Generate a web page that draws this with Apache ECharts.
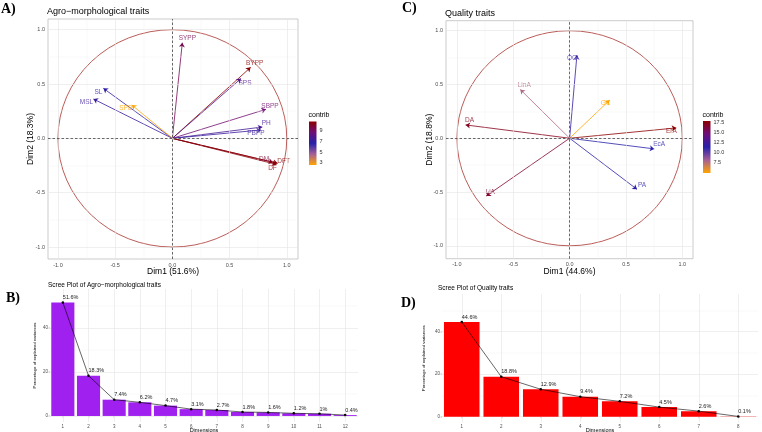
<!DOCTYPE html>
<html><head><meta charset="utf-8">
<script src="https://cdn.jsdelivr.net/npm/echarts@6/dist/echarts.min.js"></script>
<style>html,body{margin:0;padding:0;background:#fff}#c{width:762px;height:432px}</style>
</head><body><div id="c"></div>
<script>
// ---------- data ----------
const agroVars    = ['SYPP','BYPP','SPS','SBPP','PH','PBPP','DM','DFT','DF','SL','MSL','SPB'];
const agroDim1    = [0.087, 0.684, 0.60, 0.818, 0.786, 0.774, 0.88, 0.92, 0.91, -0.603, -0.69, -0.355];
const agroDim2    = [0.88, 0.653, 0.55, 0.267, 0.104, 0.077, -0.22, -0.23, -0.24, 0.46, 0.362, 0.307];
const agroContrib = [9.3, 10.7, 7.9, 8.8, 7.5, 7.2, 9.8, 10.7, 10.6, 6.9, 7.2, 2.6];

const qualVars    = ['OC','LinA','GC','DA','ErA','EcA','PA','LiA'];
const qualDim1    = [0.065, -0.438, 0.355, -0.923, 0.947, 0.751, 0.598, -0.74];
const qualDim2    = [0.773, 0.453, 0.354, 0.124, 0.096, -0.099, -0.475, -0.537];
const qualContrib = [11.9, 7.8, 4.95, 17.1, 17.8, 11.3, 11.5, 16.5];

const agroDims = ['1','2','3','4','5','6','7','8','9','10','11','12'];
const agroVarExpl = [51.6, 18.3, 7.4, 6.2, 4.7, 3.1, 2.7, 1.8, 1.6, 1.2, 1, 0.4];
const qualDims = ['1','2','3','4','5','6','7','8'];
const qualVarExpl = [44.6, 18.8, 12.9, 9.4, 7.2, 4.5, 2.6, 0.1];

const pcaTicks = [-1, -0.5, 0, 0.5, 1];
const pcaMinor = [-0.75, -0.25, 0.25, 0.75];
const screeTicks = [0, 20, 40];
const screeMinor = [10, 30, 50];
const agroLegendTicks = [3, 5, 7, 9];
const qualLegendTicks = [7.5, 10, 12.5, 15, 17.5];

// ---------- styles ----------
const FONT = '"Liberation Sans", Arial, sans-serif';
const SERIF = '"Liberation Serif", "Times New Roman", serif';
const rampStops = [[0,[255,165,0]],[0.25,[165,95,150]],[0.5,[38,32,170]],[0.75,[110,14,120]],[1,[139,0,0]]];
function rampColor(t){
  t = Math.max(0, Math.min(1, t));
  for (let i = 1; i < rampStops.length; i++) {
    if (t <= rampStops[i][0]) {
      const a = rampStops[i-1], b = rampStops[i];
      const f = (t - a[0]) / (b[0] - a[0]);
      const c = a[1].map((v, k) => Math.round(v + (b[1][k] - v) * f));
      return 'rgb(' + c.join(',') + ')';
    }
  }
  return 'rgb(139,0,0)';
}
const labelPlace = {
  SYPP:['top',[5,0]], BYPP:['top',[4,0]], SPS:['bottom',[4,0]], SBPP:['top',[4,1]],
  PH:['top',[4,1]], PBPP:['bottom',[-5,-1]], DM:['top',[-9,1]], DFT:['top',[6,2]],
  DF:['bottom',[-4,-1]], SL:['bottom',[-5,-1]], MSL:['bottom',[-7,-1]], SPB:['bottom',[-6,-1]],
  OC:['bottom',[-5,-1]], LinA:['top',[4,0]], GC:['bottom',[-4,-2]], DA:['top',[4,0]],
  ErA:['bottom',[-5,-1]], EcA:['top',[5,0]], PA:['top',[5,0]], LiA:['top',[4,1]]
};
const majorLine = {color:'#E4E4E4', width:0.6, type:'solid'};
const minorLine = {color:'#F1F1F1', width:0.4, type:'solid'};
const dashLine  = {color:'#444', width:0.8, type:[2.5,2]};

const grids = [], xAxes = [], yAxes = [], series = [];

function pcaPanel(o){
  const gi = grids.length;
  grids.push({left:o.left, top:o.top, width:o.width, height:o.height, show:true,
    borderColor:'#B5B5B5', borderWidth:0.7, backgroundColor:'rgba(0,0,0,0)', containLabel:false, outerBoundsMode:'none'});
  const xi = xAxes.length, yi = yAxes.length;
  xAxes.push({gridIndex:gi, type:'value', min:o.xmin, max:o.xmax, name:o.xname, nameLocation:'middle', nameGap:8,
    nameMoveOverlap:false, nameTextStyle:{fontSize:8.5, color:'#000', fontFamily:FONT},
    axisLine:{show:false}, splitLine:{show:false},
    axisTick:{show:true, customValues:pcaTicks, length:2, lineStyle:{color:'#444', width:0.5}},
    axisLabel:{customValues:pcaTicks, formatter:v=>v.toFixed(1), fontSize:5.5, color:'#4D4D4D', margin:3, fontFamily:FONT}});
  yAxes.push({gridIndex:gi, type:'value', min:o.ymin, max:o.ymax, name:o.yname, nameLocation:'middle', nameGap:o.yGap,
    nameMoveOverlap:false, nameTextStyle:{fontSize:8.5, color:'#000', fontFamily:FONT},
    axisLine:{show:false}, splitLine:{show:false},
    axisTick:{show:true, customValues:pcaTicks, length:2, lineStyle:{color:'#444', width:0.5}},
    axisLabel:{customValues:pcaTicks, formatter:v=>v.toFixed(1), fontSize:5.5, color:'#4D4D4D', margin:3, fontFamily:FONT}});
  const ml = [];
  pcaMinor.forEach(v=>{ ml.push({xAxis:v, lineStyle:minorLine}); ml.push({yAxis:v, lineStyle:minorLine}); });
  pcaTicks.forEach(v=>{ ml.push({xAxis:v, lineStyle:majorLine}); ml.push({yAxis:v, lineStyle:majorLine}); });
  ml.push({xAxis:0, lineStyle:dashLine}); ml.push({yAxis:0, lineStyle:dashLine});
  series.push({type:'scatter', xAxisIndex:xi, yAxisIndex:yi, data:[[0,0]], symbolSize:0, silent:true, z:1,
    itemStyle:{color:'rgba(0,0,0,0)'},
    markLine:{silent:true, symbol:'none', animation:false, label:{show:false}, data:ml}});
  series.push({type:'custom', xAxisIndex:xi, yAxisIndex:yi, data:[[0,0]], silent:true, z:2,
    renderItem:(p, api)=>{
      const c = api.coord([0,0]), px = api.coord([1,0]), py = api.coord([0,1]);
      const rx = px[0]-c[0], ry = c[1]-py[1];
      return {type:'path', shape:{pathData:
        'M '+(c[0]-rx)+' '+c[1]+' A '+rx+' '+ry+' 0 1 0 '+(c[0]+rx)+' '+c[1]+' A '+rx+' '+ry+' 0 1 0 '+(c[0]-rx)+' '+c[1]+' Z'},
        style:{fill:'none', stroke:'#A8332E', lineWidth:0.8}};
    }});
  const mn = Math.min(...o.contrib), mx = Math.max(...o.contrib);
  const cols = o.contrib.map(v=>rampColor((v-mn)/(mx-mn)));
  series.push({type:'lines', coordinateSystem:'cartesian2d', xAxisIndex:xi, yAxisIndex:yi, silent:true, z:3,
    symbol:['none','arrow'], symbolSize:4.5, lineStyle:{width:0.8, opacity:1, curveness:0},
    data:o.vars.map((v,i)=>({coords:[[0,0],[o.d1[i],o.d2[i]]], lineStyle:{color:cols[i], width:0.8, opacity:1}}))});
  series.push({type:'scatter', xAxisIndex:xi, yAxisIndex:yi, silent:true, z:4, symbolSize:0.1,
    itemStyle:{color:'rgba(0,0,0,0)'},
    label:{show:true, formatter:'{b}', fontSize:6.5, distance:1, fontFamily:FONT},
    data:o.vars.map((v,i)=>({name:v, value:[o.d1[i],o.d2[i]],
      label:{position:labelPlace[v][0], offset:labelPlace[v][1], color:cols[i]}}))});
  // colour bar legend
  const lg = grids.length;
  grids.push({left:o.legLeft, top:o.legTop, width:7.5, height:o.legHeight, show:false, containLabel:false, outerBoundsMode:'none'});
  const lx = xAxes.length, ly = yAxes.length;
  xAxes.push({gridIndex:lg, type:'category', data:['c'], show:false});
  yAxes.push({gridIndex:lg, type:'value', position:'right', min:mn, max:mx,
    axisLine:{show:false}, splitLine:{show:false},
    axisTick:{show:true, inside:true, length:1.5, customValues:o.legTicks, lineStyle:{color:'#fff', width:0.5}},
    axisLabel:{customValues:o.legTicks, fontSize:5.5, color:'#333', margin:3, fontFamily:FONT,
      formatter:v=>(o.legDec ? v.toFixed(1) : String(v))}});
  const stops = rampStops.map(s=>({offset:1-s[0], color:'rgb('+s[1].join(',')+')'})).reverse();
  series.push({type:'custom', xAxisIndex:lx, yAxisIndex:ly, data:[[0,mx]], silent:true, z:1,
    renderItem:(p, api)=>{
      const t = api.coord([0,mx]), b = api.coord([0,mn]), w = api.size([1,0])[0];
      return {type:'rect', shape:{x:t[0]-w/2, y:t[1], width:w, height:b[1]-t[1]},
        style:{fill:new echarts.graphic.LinearGradient(0,0,0,1,stops)}};
    }});
}

function screePanel(o){
  const gi = grids.length;
  grids.push({left:o.left, top:o.top, width:o.width, height:o.height, show:false, containLabel:false, outerBoundsMode:'none'});
  const xi = xAxes.length, yi = yAxes.length;
  xAxes.push({gridIndex:gi, type:'category', data:o.dims, name:'Dimensions', nameLocation:'middle', nameGap:5,
    nameMoveOverlap:false, nameTextStyle:{fontSize:5.5, color:'#000', fontFamily:FONT},
    axisLine:{show:false}, splitLine:{show:false},
    axisTick:{show:true, alignWithLabel:true, length:1.5, lineStyle:{color:'#555', width:0.4}},
    axisLabel:{fontSize:4.5, color:'#4D4D4D', margin:2, fontFamily:FONT, interval:0}});
  yAxes.push({gridIndex:gi, type:'value', min:-2.75, max:57.75, name:'Percentage of explained variances',
    nameLocation:'middle', nameGap:o.yGap, nameMoveOverlap:false, nameTextStyle:{fontSize:4.3, color:'#000', fontFamily:FONT},
    axisLine:{show:false}, splitLine:{show:false},
    axisTick:{show:true, customValues:screeTicks, length:1.5, lineStyle:{color:'#555', width:0.4}},
    axisLabel:{customValues:screeTicks, fontSize:4.5, color:'#4D4D4D', margin:2, fontFamily:FONT}});
  const ml = [];
  screeMinor.forEach(v=>ml.push({yAxis:v, lineStyle:minorLine}));
  screeTicks.forEach(v=>ml.push({yAxis:v, lineStyle:majorLine}));
  o.dims.forEach((d,i)=>ml.push({xAxis:i, lineStyle:majorLine}));
  series.push({type:'bar', xAxisIndex:xi, yAxisIndex:yi, data:o.values, barCategoryGap:'10%', silent:true, z:2,
    itemStyle:{color:o.color},
    markLine:{silent:true, symbol:'none', animation:false, label:{show:false}, data:ml, z:1}});
  series.push({type:'line', xAxisIndex:xi, yAxisIndex:yi, data:o.values, silent:true, z:3,
    symbol:'circle', symbolSize:2.5, itemStyle:{color:'#000'}, lineStyle:{color:'#000', width:0.6},
    label:{show:true, position:'top', align:'left', distance:0.5, fontSize:5.5, color:'#1a1a1a', fontFamily:FONT,
      formatter:p=>p.value+'%'}});
}

pcaPanel({left:48, top:19, width:250, height:240, xmin:-1.087, xmax:1.098, ymin:-1.11, ymax:1.098, yGap:13,
  xname:'Dim1 (51.6%)', yname:'Dim2 (18.3%)', vars:agroVars, d1:agroDim1, d2:agroDim2, contrib:agroContrib,
  legLeft:309, legTop:121.5, legHeight:43.5, legTicks:agroLegendTicks, legDec:false});
pcaPanel({left:446, top:20.7, width:247, height:238, xmin:-1.097, xmax:1.095, ymin:-1.12, ymax:1.093, yGap:12.2,
  xname:'Dim1 (44.6%)', yname:'Dim2 (18.8%)', vars:qualVars, d1:qualDim1, d2:qualDim2, contrib:qualContrib,
  legLeft:703, legTop:121, legHeight:52, legTicks:qualLegendTicks, legDec:true});
screePanel({left:50, top:289, width:308, height:133, dims:agroDims, values:agroVarExpl, color:'#A020F0', yGap:13.5});
screePanel({left:442, top:294, width:316, height:128.5, dims:qualDims, values:qualVarExpl, color:'#FF0000', yGap:16});

const t = (text, left, top, size, fam, weight) => ({text, left, top, padding:0,
  textStyle:{fontSize:size, fontFamily:fam, fontWeight:weight||'normal', color:'#000'}});

const chart = echarts.init(document.getElementById('c'), null, {renderer:'canvas'});
chart.setOption({
  animation:false,
  backgroundColor:'#fff',
  title:[
    t('A)', 1, 2, 14, SERIF, 'bold'),
    t('C)', 402, 1, 14, SERIF, 'bold'),
    t('B)', 6, 291.5, 14, SERIF, 'bold'),
    t('D)', 401, 296, 14, SERIF, 'bold'),
    t('Agro\u2212morphological traits', 47, 7.5, 9, FONT),
    t('Quality traits', 445, 8.8, 9, FONT),
    t('Scree Plot of Agro\u2212morphological traits', 48, 281.5, 6.5, FONT),
    t('Scree Plot of Quality traits', 438, 284.5, 6.5, FONT),
    t('contrib', 308.5, 112, 7, FONT),
    t('contrib', 702.5, 112, 7, FONT)
  ],
  grid:grids, xAxis:xAxes, yAxis:yAxes, series:series
});
</script>
</body></html>
